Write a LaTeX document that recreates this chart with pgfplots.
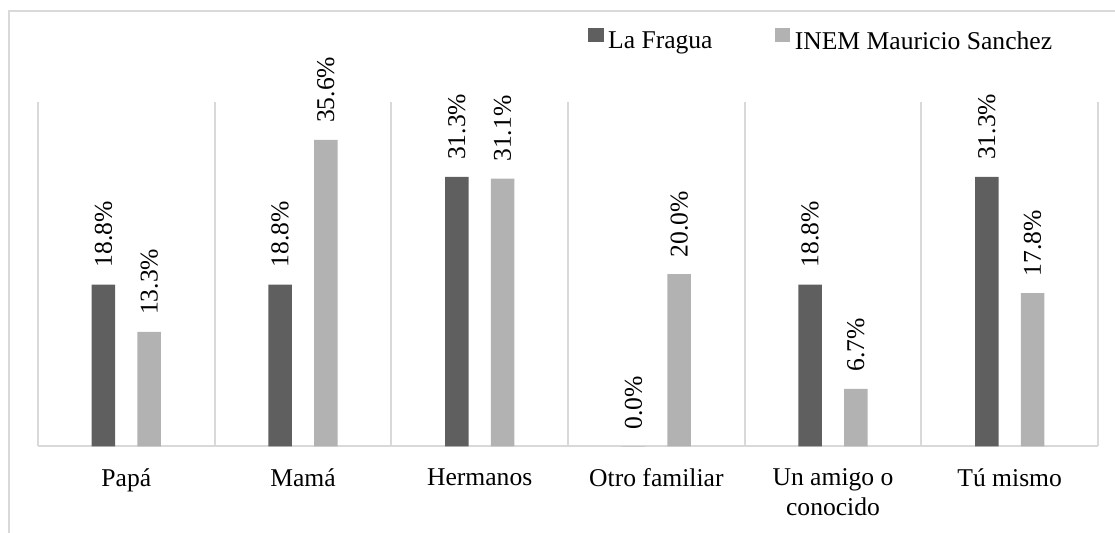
\documentclass[border=0pt]{standalone}
\usepackage{fontspec}
\setmainfont{Liberation Serif}
\usepackage{pgfplots}
\pgfplotsset{compat=1.18}
\definecolor{darkbar}{HTML}{5F5F5F}
\definecolor{lightbar}{HTML}{B2B2B2}
\definecolor{gridc}{HTML}{D9D9D9}
\begin{document}
\begin{tikzpicture}[font=\fontsize{12.8}{15}\selectfont]
\useasboundingbox (0,0) rectangle (557.5pt,266.5pt);
\draw[gridc, line width=1pt] (4.5pt,-5pt) rectangle (570pt,261pt);
\begin{axis}[
  at={(19pt,43.25pt)}, anchor=south west,
  scale only axis, width=530pt, height=172.25pt,
  clip=false,
  ybar=11.1pt, bar width=11.75pt,
  xmin=-0.5, xmax=5.5, ymin=0, ymax=40,
  xtick={0,...,5},
  xticklabels={Papá,Mamá,Hermanos,Otro familiar,{Un amigo o\\conocido},Tú mismo},
  xticklabel style={align=center, inner sep=0pt, anchor=north, yshift=-11pt},
  minor xtick={-0.5,0.5,...,5.5},
  xminorgrids, minor grid style={gridc, line width=1pt},
  major tick length=0pt, minor tick length=0pt,
  ytick=\empty,
  axis x line*=bottom, axis y line=none,
  x axis line style={gridc, line width=1pt, -},
  /pgf/number format/assume math mode=true,
  nodes near coords={\pgfmathprintnumber[fixed,fixed zerofill,precision=1,assume math mode=true]{\pgfplotspointmeta}\%},
  every node near coord/.append style={rotate=90, anchor=west, inner sep=0pt, outer xsep=8.5pt, text=black},
  legend columns=2,
  legend style={draw=none, fill=none, inner sep=0pt, at={(0.5189,1.178)}, anchor=west,
    nodes={inner sep=0.75pt},
    /tikz/every odd column/.append style={column sep=1.5pt},
    /tikz/every even column/.append style={column sep=30.5pt}},
  legend image code/.code={\fill[#1] (0pt,-0.2pt) rectangle (7.6pt,7.1pt);},
]
\addplot[fill=darkbar, draw=none] coordinates {(0,18.8) (1,18.8) (2,31.3) (3,0) (4,18.8) (5,31.3)};
\addplot[fill=lightbar, draw=none] coordinates {(0,13.3) (1,35.6) (2,31.1) (3,20.0) (4,6.7) (5,17.8)};
\legend{La Fragua, INEM Mauricio Sanchez}
\end{axis}
\end{tikzpicture}
\end{document}
